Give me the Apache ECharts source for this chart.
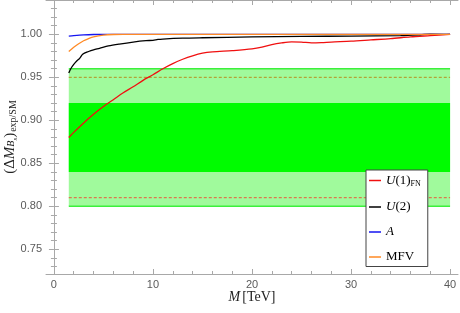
<!DOCTYPE html>
<html>
<head>
<meta charset="utf-8">
<script src="https://cdn.jsdelivr.net/npm/echarts@6/dist/echarts.min.js"></script>
<style>html,body{margin:0;padding:0;background:#fff;}#c{width:460px;height:313px;}</style>
</head>
<body>
<div id="c"></div>
<script>
// ---- data ----
var redM = [1.5, 2, 3, 4, 5, 6, 7, 8, 9, 10, 11, 12, 13, 14, 15, 16, 18, 20, 21, 22, 23, 24, 25, 26, 27, 28, 30, 32, 34, 36, 38, 40];
var redV = [0.880, 0.886, 0.897, 0.907, 0.916, 0.924, 0.932, 0.939, 0.9465, 0.953, 0.960, 0.966, 0.971, 0.975, 0.978, 0.9795, 0.981, 0.983, 0.985, 0.988, 0.990, 0.9912, 0.991, 0.990, 0.9903, 0.991, 0.992, 0.9935, 0.995, 0.997, 0.9985, 1.000];
var blackM = [1.5, 1.7, 2, 2.3, 2.6, 2.9, 3.5, 4, 4.6, 5.5, 6.6, 8, 9.3, 10, 10.5, 11, 13, 15, 20, 25, 30, 35, 37, 38, 40];
var blackV = [0.955, 0.960, 0.965, 0.969, 0.972, 0.9767, 0.980, 0.982, 0.9837, 0.9865, 0.9887, 0.991, 0.9926, 0.993, 0.994, 0.9945, 0.9955, 0.996, 0.997, 0.9975, 0.998, 0.9985, 0.9995, 1.0003, 1.000];
var blueM = [1.5, 2, 3, 4, 5, 10, 20, 30, 40];
var blueV = [0.998, 0.9985, 0.9993, 0.9998, 1.000, 1.000, 1.000, 1.000, 1.000];
var orangeM = [1.5, 2, 2.5, 3, 3.5, 4, 5, 6, 7, 10, 20, 30, 40];
var orangeV = [0.980, 0.985, 0.989, 0.9925, 0.995, 0.997, 0.999, 0.9998, 1.000, 1.000, 1.000, 1.000, 1.000];
var seriesNames = ['U(1)FN', 'U(2)', 'A', 'MFV'];
var seriesColors = ['#f01010', '#000000', '#1515f0', '#ff8a25'];
var bandX = [1.5, 40];
var bandOuter = [0.80, 0.96];
var bandInner = [0.84, 0.92];
var dashLevels = [0.95, 0.81];
var xMajor = [0, 10, 20, 30, 40];
var xMinor = [2, 4, 6, 8, 12, 14, 16, 18, 22, 24, 26, 28, 32, 34, 36, 38];
var yMajor = [0.75, 0.80, 0.85, 0.90, 0.95, 1.00];
var yMinor = [0.73, 0.74, 0.76, 0.77, 0.78, 0.79, 0.81, 0.82, 0.83, 0.84, 0.86, 0.87, 0.88, 0.89, 0.91, 0.92, 0.93, 0.94, 0.96, 0.97, 0.98, 0.99, 1.01, 1.02, 1.03];
var xRange = [-0.8, 40.8];
var yRange = [0.7213, 1.0399];

function zip(a, b) { return a.map(function (v, i) { return [v, b[i]]; }); }

var axisCol = '#a8a8a8';
var serif = '"Liberation Serif", "DejaVu Serif", serif';

function xAx(pos, vals, len, showLabel, showLine, extra) {
  var o = {
    type: 'value', position: pos, min: xRange[0], max: xRange[1], gridIndex: 0,
    axisLine: { show: showLine, lineStyle: { color: axisCol, width: 1 } },
    axisTick: { show: true, inside: true, length: len, customValues: vals, lineStyle: { color: axisCol } },
    axisLabel: { show: showLabel, customValues: vals, color: '#5a5a5a', fontSize: 11, margin: 5, fontFamily: '"Liberation Sans", Arial, sans-serif' },
    splitLine: { show: false }
  };
  return Object.assign(o, extra || {});
}
function yAx(pos, vals, len, showLabel, showLine, extra) {
  var o = {
    type: 'value', position: pos, min: yRange[0], max: yRange[1], gridIndex: 0,
    axisLine: { show: showLine, lineStyle: { color: axisCol, width: 1 } },
    axisTick: { show: true, inside: true, length: len, customValues: vals, lineStyle: { color: axisCol } },
    axisLabel: { show: showLabel, customValues: vals, color: '#5a5a5a', fontSize: 11, margin: 4, fontFamily: '"Liberation Sans", Arial, sans-serif',
      formatter: function (v) { return v.toFixed(2); } },
    splitLine: { show: false }
  };
  return Object.assign(o, extra || {});
}

var chart = echarts.init(document.getElementById('c'), null, { renderer: 'canvas' });

var curves = [zip(redM, redV), zip(blackM, blackV), zip(blueM, blueV), zip(orangeM, orangeV)];

var series = [];
// bands
series.push({
  type: 'line', xAxisIndex: 0, yAxisIndex: 0, data: [], silent: true, z: 1,
  markArea: {
    silent: true,
    data: [
      [{ xAxis: bandX[0], yAxis: bandOuter[0], itemStyle: { color: '#a0fa9c' } }, { xAxis: bandX[1], yAxis: bandOuter[1] }],
      [{ xAxis: bandX[0], yAxis: bandInner[0], itemStyle: { color: '#00fc00' } }, { xAxis: bandX[1], yAxis: bandInner[1] }]
    ]
  }
});
// band edges
bandOuter.forEach(function (lv) {
  series.push({ type: 'line', xAxisIndex: 0, yAxisIndex: 0, data: [[bandX[0], lv], [bandX[1], lv]], symbol: 'none', silent: true, z: 2,
    lineStyle: { color: '#3cf03c', width: 1.5 } });
});
// dashed reference lines
var dashColors = ['#b59020', '#e85a3a'];
dashLevels.forEach(function (lv, i) {
  series.push({ type: 'line', xAxisIndex: 0, yAxisIndex: 0, data: [[bandX[0], lv], [bandX[1], lv]], symbol: 'none', silent: true, z: 3,
    lineStyle: { color: dashColors[i], width: 1, type: [3, 2] } });
});
// curves
seriesNames.forEach(function (nm, i) {
  series.push({ name: nm, type: 'line', xAxisIndex: 0, yAxisIndex: 0, data: curves[i], symbol: 'none', smooth: 0.3, z: 5 + (i === 1 ? 0 : i),
    lineStyle: { color: seriesColors[i], width: 1.3 }, itemStyle: { color: seriesColors[i] } });
});

var legendRich = {
  i: { fontFamily: serif, fontStyle: 'italic', fontSize: 13, color: '#000', lineHeight: 16, verticalAlign: 'middle' },
  r: { fontFamily: serif, fontSize: 13, color: '#000', lineHeight: 16, verticalAlign: 'middle' },
  s: { fontFamily: serif, fontSize: 8, color: '#000', lineHeight: 8, verticalAlign: 'bottom', padding: [0, 0, 1, 0] }
};
var legendFmt = { 'U(1)FN': '{i|U}{r|(1)}{s|FN}', 'U(2)': '{i|U}{r|(2)}', 'A': '{i|A}', 'MFV': '{r|MFV}' };

var option = {
  animation: false,
  backgroundColor: '#ffffff',
  grid: { left: 46, right: 2, top: 0, bottom: 39, containLabel: false, outerBoundsMode: 'none' },
  xAxis: [
    xAx('bottom', xMajor, 5, true, true, {
      name: '{i|M}{r|[TeV]}', nameLocation: 'middle', nameGap: 16, nameMoveOverlap: false,
      nameTextStyle: { rich: { i: { fontFamily: serif, fontStyle: 'italic', fontSize: 14, color: '#222', padding: [0, 2, 0, 0] }, r: { fontFamily: serif, fontSize: 14, color: '#222' } } }
    }),
    xAx('bottom', xMinor, 3, false, false),
    xAx('top', xMajor, 5, false, true),
    xAx('top', xMinor, 3, false, false)
  ],
  yAxis: [
    yAx('left', yMajor, 5, true, true, {
      name: '{a|(Δ}{ai|M}{b|B}{c|s}{a|)}{e|exp/SM}', nameLocation: 'middle', nameRotate: 90, nameGap: 27, nameMoveOverlap: false,
      nameTextStyle: { rich: {
        a: { fontFamily: serif, fontSize: 15, color: '#222', lineHeight: 16, verticalAlign: 'top', padding: [0, 0, 5, 0] },
        ai: { fontFamily: serif, fontStyle: 'italic', fontSize: 15, color: '#222', lineHeight: 16, verticalAlign: 'top', padding: [0, 0, 5, 0] },
        b: { fontFamily: serif, fontStyle: 'italic', fontSize: 10, color: '#222', lineHeight: 10, verticalAlign: 'bottom', padding: [0, 0, 3, 0] },
        c: { fontFamily: serif, fontStyle: 'italic', fontSize: 7, color: '#222', lineHeight: 7, verticalAlign: 'bottom' },
        e: { fontFamily: serif, fontSize: 10, color: '#222', lineHeight: 10, verticalAlign: 'bottom', padding: [0, 0, 1, 1] }
      } }
    }),
    yAx('left', yMinor, 3, false, false),
    yAx('right', yMajor, 5, false, true),
    yAx('right', yMinor, 3, false, false)
  ],
  legend: {
    show: true, orient: 'vertical', left: 366, top: 170,
    data: seriesNames,
    icon: 'rect', itemWidth: 12, itemHeight: 1.5, itemGap: 12,
    padding: [4, 7, 3, 3],
    backgroundColor: '#ffffff', borderColor: '#444', borderWidth: 1, borderRadius: 0,
    formatter: function (n) { return legendFmt[n]; },
    textStyle: { rich: legendRich, fontFamily: serif, fontSize: 13 },
    selectedMode: false
  },
  series: series
};
chart.setOption(option);
</script>
</body>
</html>
